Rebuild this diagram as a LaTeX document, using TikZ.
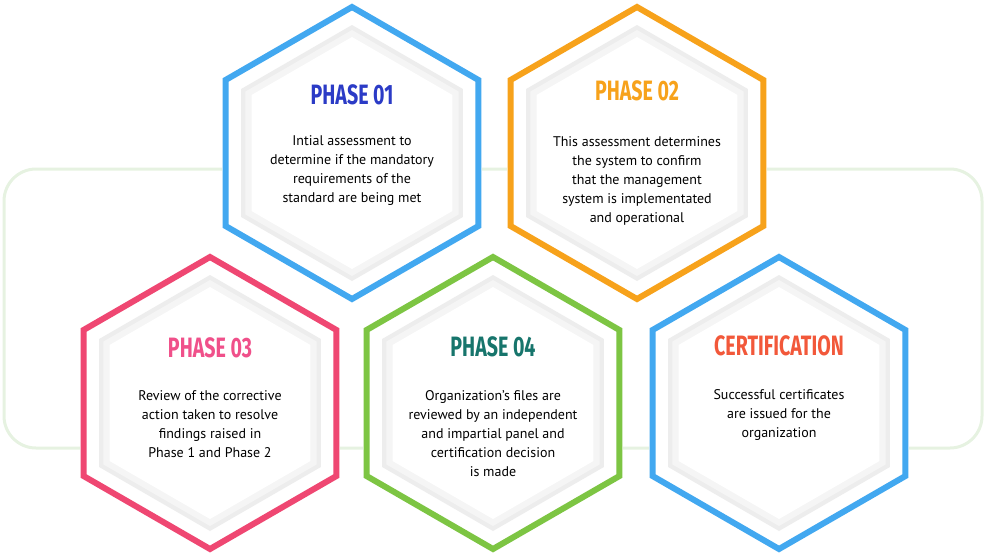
\documentclass[tikz,border=0pt]{standalone}
\usepackage{fontspec}
\setmainfont{PT Sans}
\newfontfamily\titlefont{Fira Sans}
\definecolor{hblue}{HTML}{42A8F0}
\definecolor{horange}{HTML}{F7A21B}
\definecolor{hpink}{HTML}{EF4772}
\definecolor{hgreen}{HTML}{7DC543}
\definecolor{tblue}{HTML}{2B3BC6}
\definecolor{tpink}{HTML}{F0508A}
\definecolor{tteal}{HTML}{17756C}
\definecolor{tred}{HTML}{F2583A}
\definecolor{bgline}{HTML}{E6F2E1}
\newcommand{\hexpath}[3]{(#1,#2)++(90:#3)--++(-30:#3)--++(-90:#3)--++(-150:#3)--++(150:#3)--++(90:#3)--cycle}
\tikzset{
  body/.style={align=center,font=\fontsize{14}{19}\selectfont,text=black},
  ttl/.style={font=\titlefont\bfseries\fontsize{28}{30}\selectfont},
}
\newcommand{\hexa}[3]{%
  \fill[white] \hexpath{#1}{#2}{150};
  \draw[#3,line width=6] \hexpath{#1}{#2}{146};
  \fill[black!7] \hexpath{#1}{#2}{128};
  \fill[black!4] \hexpath{#1}{#2}{123};
  \fill[white] \hexpath{#1}{#2}{116};
}
\begin{document}
\begin{tikzpicture}[x=1pt,y=-1pt]
\useasboundingbox (0,0) rectangle (985,557);
\draw[bgline,line width=3,rounded corners=32] (4,169) rectangle (982,448);
\hexa{352}{153}{hblue}
\hexa{637}{153}{horange}
\hexa{210}{403}{hpink}
\hexa{493}{403}{hgreen}
\hexa{779}{403}{hblue}
\node[ttl,text=tblue] (t1) at (352,95) {\scalebox{0.7}[1]{PHASE 01}};
\node[body] (b1) at (352,171) {Intial assessment to\\determine if the mandatory\\requirements\ of the\\standard\ are being met};
\node[ttl,text=horange] (t2) at (637,91) {\scalebox{0.7}[1]{PHASE 02}};
\node[body] (b2) at (637,181) {This assessment determines\\the system to confirm\\that the management\\system is implementated\\and operational};
\node[ttl,text=tpink] (t3) at (210,348) {\scalebox{0.7}[1]{PHASE 03}};
\node[body] (b3) at (210,424) {Review of the corrective\\action taken to resolve\\findings raised in\\Phase 1 and Phase 2};
\node[ttl,text=tteal] (t4) at (493,347) {\scalebox{0.7}[1]{PHASE 04}};
\node[body] (b4) at (493,434) {Organization’s files are\\reviewed by an independent\\and impartial panel and\\certification decision\\is made};
\node[ttl,text=tred] (t5) at (779,346) {\scalebox{0.7}[1]{CERTIFICATION}};
\node[body] (b5) at (779,415) {Successful certificates\\are issued for the\\organization};
\end{tikzpicture}
\end{document}
